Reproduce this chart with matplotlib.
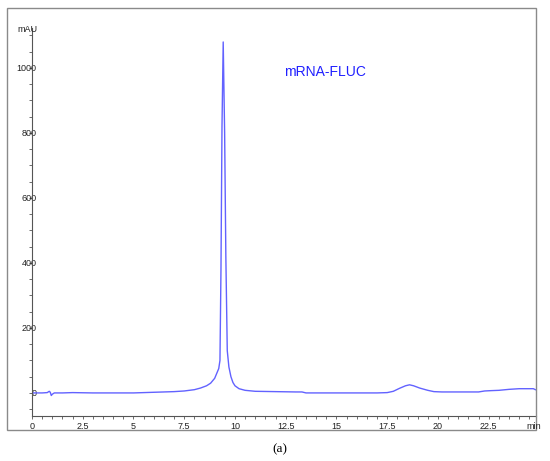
import numpy as np
import matplotlib.pyplot as plt
from matplotlib.patches import Rectangle
from matplotlib.ticker import MultipleLocator

# chromatogram (time in min, signal in mAU)
time_min = [0, 0.5, 0.75, 0.85, 0.9, 0.95, 1.0, 1.1, 1.5, 2, 3, 4, 5, 5.5, 6, 6.5,
            7, 7.5, 8, 8.3, 8.6, 8.8, 9.0, 9.1, 9.2, 9.26, 9.31, 9.36, 9.42, 9.49,
            9.55, 9.62, 9.7, 9.8, 9.9, 10.0, 10.2, 10.5, 11, 12, 13, 13.3, 13.5, 14,
            15, 16, 17, 17.5, 17.8, 18.1, 18.4, 18.6, 18.8, 19.1, 19.5, 19.8, 20.2,
            21, 22, 22.3, 22.6, 23, 23.5, 24, 24.5, 24.7, 24.8]
signal_mau = [0, 0, 1, 5, 2, -8, -4, 0, 0, 1, 0, 0, 0, 1, 2, 3,
              4, 6, 10, 15, 22, 30, 45, 60, 75, 100, 380, 820, 1080, 800,
              420, 130, 80, 50, 32, 22, 13, 8, 5, 4, 3, 3, 0, 0,
              0, 0, 0, 1, 5, 14, 22, 25, 22, 15, 8, 4, 3,
              3, 3, 6, 7, 8, 11, 13, 13, 13, 10]

x_ticks = [0, 2.5, 5, 7.5, 10, 12.5, 15, 17.5, 20, 22.5]
x_tick_labels = ['0', '2.5', '5', '7.5', '10', '12.5', '15', '17.5', '20', '22.5']
y_ticks = [0, 200, 400, 600, 800, 1000]

plt.rcParams['font.family'] = ['Liberation Sans', 'DejaVu Sans']

W, H = 550, 461
fig = plt.figure(figsize=(W / 100, H / 100), dpi=100)

# outer frame of the panel
fig.patches.append(Rectangle((7 / W, 1 - 430 / H), (536 - 7) / W, (430 - 8) / H,
                             transform=fig.transFigure, fill=False,
                             edgecolor='#8a8a8a', linewidth=1.0))

ax = fig.add_axes([32 / W, 1 - 416 / H, (536 - 32) / W, (416 - 28) / H])
ax.plot(time_min, signal_mau, color='#6262ff', linewidth=1.0)

ax.set_xlim(0, 24.83)
ax.set_ylim(-71, 1123)
ax.set_xticks(x_ticks)
ax.set_xticklabels(x_tick_labels)
ax.set_yticks(y_ticks)
ax.xaxis.set_minor_locator(MultipleLocator(0.5))
ax.yaxis.set_minor_locator(MultipleLocator(50))

for side in ['top', 'right']:
    ax.spines[side].set_visible(False)
for side in ['left', 'bottom']:
    ax.spines[side].set_color('#555555')
    ax.spines[side].set_linewidth(0.8)

ax.tick_params(axis='both', which='both', direction='out', color='#555555',
               width=0.6, labelsize=6.5, labelcolor='#222222')
ax.tick_params(axis='x', which='major', length=2.5, pad=1.5)
ax.tick_params(axis='x', which='minor', length=2)
ax.tick_params(axis='y', which='major', length=2.5, pad=-5.8)
ax.tick_params(axis='y', which='minor', length=2)

fig.text(27 / W, 1 - 29 / H, 'mAU', fontsize=6.5, color='#222222',
         ha='center', va='center')
fig.text(534 / W, 1 - 426 / H, 'min', fontsize=6.5, color='#222222',
         ha='center', va='center')
fig.text(325 / W, 1 - 72 / H, 'mRNA-FLUC', fontsize=10, color='#2020ff',
         ha='center', va='center')
fig.text(280 / W, 1 - 449 / H, '(a)', fontsize=9.5, color='black',
         ha='center', va='center', family='Liberation Serif')

fig.savefig('out.png', dpi=100)
